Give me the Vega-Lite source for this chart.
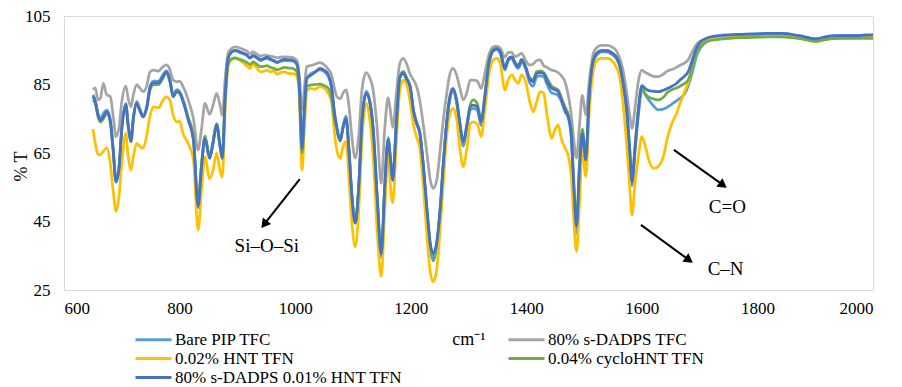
{
  "$schema": "https://vega.github.io/schema/vega-lite/v6.json",
  "width": 809,
  "height": 274,
  "autosize": {"type": "none"},
  "padding": {"left": 64, "top": 16, "right": 29, "bottom": 97},
  "background": "white",
  "config": {
    "view": {"stroke": "#D9D9D9", "strokeWidth": 1},
    "font": "Times New Roman"
  },
  "datasets": {
    "spectra": [
      {"w":650,"bare":82,"tfc":83.5,"hnt":72,"cyclo":80.5,"dual":81.5},
      {"w":654,"bare":80.5,"tfc":84,"hnt":68,"cyclo":79.5,"dual":80},
      {"w":659,"bare":76.5,"tfc":80.5,"hnt":64.5,"cyclo":75.5,"dual":76},
      {"w":663,"bare":75,"tfc":81,"hnt":64.5,"cyclo":74,"dual":74.5},
      {"w":668,"bare":76.5,"tfc":85.3,"hnt":65.5,"cyclo":75,"dual":75.5},
      {"w":674,"bare":77.5,"tfc":82,"hnt":66.5,"cyclo":76.5,"dual":77},
      {"w":680,"bare":75,"tfc":81.5,"hnt":62,"cyclo":74,"dual":74.5},
      {"w":685,"bare":66.5,"tfc":76,"hnt":54,"cyclo":66,"dual":66},
      {"w":690,"bare":57,"tfc":69.8,"hnt":48,"cyclo":57,"dual":56.5},
      {"w":695,"bare":60.5,"tfc":72,"hnt":52,"cyclo":60.5,"dual":60},
      {"w":700,"bare":72.5,"tfc":80,"hnt":62,"cyclo":72,"dual":72},
      {"w":707,"bare":79.5,"tfc":84.5,"hnt":70.7,"cyclo":79,"dual":79},
      {"w":711,"bare":73.5,"tfc":81,"hnt":64,"cyclo":73,"dual":73},
      {"w":716,"bare":69,"tfc":78.5,"hnt":60,"cyclo":69,"dual":68.3},
      {"w":720,"bare":75.5,"tfc":82,"hnt":64,"cyclo":75,"dual":75},
      {"w":726,"bare":80,"tfc":85,"hnt":67.8,"cyclo":79.5,"dual":79.5},
      {"w":731,"bare":78,"tfc":84,"hnt":67,"cyclo":77.5,"dual":77.5},
      {"w":737,"bare":76,"tfc":82.9,"hnt":66.4,"cyclo":75.5,"dual":75.6},
      {"w":743,"bare":78.5,"tfc":84.5,"hnt":70,"cyclo":78,"dual":78},
      {"w":749,"bare":84.5,"tfc":88.7,"hnt":76,"cyclo":83.5,"dual":84},
      {"w":755,"bare":86,"tfc":89.2,"hnt":78.5,"cyclo":85,"dual":85.5},
      {"w":764,"bare":86,"tfc":88.9,"hnt":78.2,"cyclo":85,"dual":85.5},
      {"w":770,"bare":87.5,"tfc":90,"hnt":80,"cyclo":86.5,"dual":87},
      {"w":777,"bare":89,"tfc":90.7,"hnt":81.4,"cyclo":88.3,"dual":88.7},
      {"w":783,"bare":87,"tfc":89.5,"hnt":80.5,"cyclo":86,"dual":86.3},
      {"w":789,"bare":82,"tfc":86.3,"hnt":76,"cyclo":81.5,"dual":81.4},
      {"w":795,"bare":83.5,"tfc":85.8,"hnt":74.1,"cyclo":83,"dual":82.9},
      {"w":800,"bare":83,"tfc":86,"hnt":74.3,"cyclo":82.5,"dual":82.5},
      {"w":806,"bare":80.5,"tfc":84.4,"hnt":70.7,"cyclo":80.5,"dual":80},
      {"w":815,"bare":75,"tfc":80.5,"hnt":67.8,"cyclo":75.5,"dual":74.6},
      {"w":824,"bare":69,"tfc":75,"hnt":63,"cyclo":69.5,"dual":68.8},
      {"w":832,"bare":49,"tfc":65.9,"hnt":42.5,"cyclo":50.5,"dual":49.3},
      {"w":838,"bare":61,"tfc":72,"hnt":54,"cyclo":62,"dual":61},
      {"w":844,"bare":69.5,"tfc":79.5,"hnt":63.9,"cyclo":70,"dual":69.3},
      {"w":852,"bare":63.5,"tfc":76.3,"hnt":57.5,"cyclo":64,"dual":63.4},
      {"w":858,"bare":68,"tfc":79,"hnt":60,"cyclo":68.5,"dual":68},
      {"w":864,"bare":73.5,"tfc":82.4,"hnt":65,"cyclo":73.5,"dual":73.2},
      {"w":870,"bare":67,"tfc":79,"hnt":60,"cyclo":67.5,"dual":67},
      {"w":874,"bare":63.5,"tfc":76,"hnt":58,"cyclo":64,"dual":63.4},
      {"w":879,"bare":82,"tfc":87,"hnt":78,"cyclo":81,"dual":82},
      {"w":884,"bare":92.5,"tfc":94.2,"hnt":90.5,"cyclo":91,"dual":92.5},
      {"w":890,"bare":94.5,"tfc":95.5,"hnt":92.3,"cyclo":92.5,"dual":94.5},
      {"w":896,"bare":94.8,"tfc":96,"hnt":92.6,"cyclo":92.8,"dual":95},
      {"w":905,"bare":94.3,"tfc":95.6,"hnt":92,"cyclo":92.3,"dual":94.5},
      {"w":916,"bare":93.5,"tfc":94.8,"hnt":90.5,"cyclo":91.5,"dual":93.7},
      {"w":922,"bare":92.7,"tfc":94,"hnt":89.7,"cyclo":90.8,"dual":92.8},
      {"w":927,"bare":93.3,"tfc":94.5,"hnt":91,"cyclo":91.6,"dual":93.5},
      {"w":933,"bare":92.8,"tfc":94,"hnt":90,"cyclo":91,"dual":93},
      {"w":940,"bare":92,"tfc":93.3,"hnt":88.7,"cyclo":90.2,"dual":92.3},
      {"w":946,"bare":92.4,"tfc":93.6,"hnt":88.9,"cyclo":90.3,"dual":92.6},
      {"w":951,"bare":92.6,"tfc":93.5,"hnt":89.2,"cyclo":90.5,"dual":93},
      {"w":957,"bare":92.2,"tfc":93.3,"hnt":88.7,"cyclo":90,"dual":92.5},
      {"w":963,"bare":91.8,"tfc":93.1,"hnt":89,"cyclo":89.7,"dual":92},
      {"w":969,"bare":91.4,"tfc":92.8,"hnt":88,"cyclo":89.3,"dual":91.5},
      {"w":975,"bare":91.8,"tfc":93,"hnt":88.5,"cyclo":89.6,"dual":92},
      {"w":981,"bare":92,"tfc":93.1,"hnt":88.7,"cyclo":90,"dual":92.3},
      {"w":990,"bare":92,"tfc":93,"hnt":88.2,"cyclo":89.8,"dual":92.2},
      {"w":997,"bare":91.8,"tfc":92.8,"hnt":88.2,"cyclo":89.6,"dual":92},
      {"w":1003,"bare":90.8,"tfc":92,"hnt":87.3,"cyclo":88.7,"dual":91},
      {"w":1007,"bare":85.5,"tfc":88,"hnt":82,"cyclo":84,"dual":86},
      {"w":1012,"bare":66.5,"tfc":77.6,"hnt":60,"cyclo":65,"dual":66.3},
      {"w":1016,"bare":78,"tfc":84,"hnt":72,"cyclo":76,"dual":78},
      {"w":1020,"bare":86.5,"tfc":90.2,"hnt":83,"cyclo":84.5,"dual":86.8},
      {"w":1026,"bare":88,"tfc":90.5,"hnt":83.9,"cyclo":84.8,"dual":87.5},
      {"w":1034,"bare":88.7,"tfc":90.9,"hnt":83.6,"cyclo":85,"dual":88.5},
      {"w":1043,"bare":89.3,"tfc":91.4,"hnt":84.4,"cyclo":85.1,"dual":89.7},
      {"w":1050,"bare":88.8,"tfc":90.8,"hnt":84,"cyclo":84.7,"dual":89.2},
      {"w":1057,"bare":87.5,"tfc":89.5,"hnt":82.5,"cyclo":84,"dual":88},
      {"w":1063,"bare":84,"tfc":87.8,"hnt":80,"cyclo":81,"dual":84.5},
      {"w":1068,"bare":76.5,"tfc":84,"hnt":71,"cyclo":75,"dual":77},
      {"w":1072,"bare":72,"tfc":81.5,"hnt":66,"cyclo":72,"dual":72.7},
      {"w":1078,"bare":68.5,"tfc":80.8,"hnt":63.4,"cyclo":68.5,"dual":68.8},
      {"w":1083,"bare":73,"tfc":82.5,"hnt":67,"cyclo":72.5,"dual":72.5},
      {"w":1088,"bare":75.8,"tfc":83.4,"hnt":68.3,"cyclo":75,"dual":75.1},
      {"w":1093,"bare":66.5,"tfc":79,"hnt":58,"cyclo":66,"dual":66},
      {"w":1098,"bare":53,"tfc":70,"hnt":45,"cyclo":53,"dual":53},
      {"w":1104,"bare":44.8,"tfc":63.5,"hnt":37.6,"cyclo":44.5,"dual":44.5},
      {"w":1110,"bare":55,"tfc":70,"hnt":48,"cyclo":55,"dual":55},
      {"w":1116,"bare":75.5,"tfc":84,"hnt":70,"cyclo":75,"dual":75},
      {"w":1123,"bare":83,"tfc":88.5,"hnt":79.5,"cyclo":82.4,"dual":82.4},
      {"w":1129,"bare":80.5,"tfc":87,"hnt":75,"cyclo":80,"dual":80},
      {"w":1135,"bare":72,"tfc":83.4,"hnt":64,"cyclo":72,"dual":72},
      {"w":1142,"bare":52,"tfc":72,"hnt":42,"cyclo":52,"dual":52},
      {"w":1149,"bare":34.5,"tfc":56.1,"hnt":29,"cyclo":35.5,"dual":35.5},
      {"w":1155,"bare":55,"tfc":72,"hnt":48,"cyclo":55,"dual":55},
      {"w":1161,"bare":69.5,"tfc":81.2,"hnt":64.9,"cyclo":69,"dual":68.8},
      {"w":1165,"bare":63.5,"tfc":77,"hnt":55,"cyclo":63,"dual":63},
      {"w":1169,"bare":57.5,"tfc":72.5,"hnt":50.5,"cyclo":58,"dual":57},
      {"w":1175,"bare":73.5,"tfc":82,"hnt":68,"cyclo":73.5,"dual":73},
      {"w":1181,"bare":87,"tfc":91,"hnt":83,"cyclo":87,"dual":87},
      {"w":1187,"bare":88.2,"tfc":92.6,"hnt":86.3,"cyclo":88.8,"dual":88.3},
      {"w":1193,"bare":86.5,"tfc":91,"hnt":85,"cyclo":87,"dual":86.5},
      {"w":1199,"bare":84,"tfc":88,"hnt":80,"cyclo":84.5,"dual":84.4},
      {"w":1205,"bare":77,"tfc":86.3,"hnt":73,"cyclo":77.5,"dual":77},
      {"w":1210,"bare":73.7,"tfc":84.5,"hnt":69.8,"cyclo":74.2,"dual":73.7},
      {"w":1216,"bare":70.5,"tfc":80,"hnt":66,"cyclo":71,"dual":70.5},
      {"w":1222,"bare":60.5,"tfc":73,"hnt":55,"cyclo":61,"dual":61},
      {"w":1228,"bare":48,"tfc":65,"hnt":41,"cyclo":48.5,"dual":49},
      {"w":1234,"bare":37,"tfc":57,"hnt":30,"cyclo":37.8,"dual":38.5},
      {"w":1239,"bare":33.5,"tfc":54.7,"hnt":27.4,"cyclo":34.7,"dual":35.7},
      {"w":1245,"bare":37.5,"tfc":57,"hnt":31,"cyclo":38.5,"dual":39},
      {"w":1251,"bare":48,"tfc":66,"hnt":43,"cyclo":48.5,"dual":49},
      {"w":1256,"bare":60.5,"tfc":74,"hnt":55.2,"cyclo":61,"dual":61},
      {"w":1262,"bare":73,"tfc":82,"hnt":69.5,"cyclo":73.5,"dual":73.5},
      {"w":1267,"bare":80,"tfc":87.5,"hnt":76,"cyclo":80.5,"dual":80.8},
      {"w":1273,"bare":83.2,"tfc":89.7,"hnt":78,"cyclo":83.5,"dual":83.9},
      {"w":1279,"bare":80,"tfc":88,"hnt":75.5,"cyclo":80.5,"dual":81},
      {"w":1285,"bare":73,"tfc":84,"hnt":66.5,"cyclo":73.5,"dual":74},
      {"w":1291,"bare":67,"tfc":80.5,"hnt":61,"cyclo":68,"dual":68.3},
      {"w":1297,"bare":72,"tfc":82.5,"hnt":66,"cyclo":73,"dual":73},
      {"w":1303,"bare":77.5,"tfc":86.3,"hnt":73.5,"cyclo":79,"dual":78.5},
      {"w":1308,"bare":78,"tfc":86.3,"hnt":74.1,"cyclo":80.5,"dual":79},
      {"w":1315,"bare":77.5,"tfc":86,"hnt":73.5,"cyclo":79.5,"dual":78.5},
      {"w":1322,"bare":73,"tfc":83.9,"hnt":69.8,"cyclo":74.5,"dual":74.1},
      {"w":1328,"bare":80.5,"tfc":88,"hnt":77,"cyclo":81.5,"dual":81},
      {"w":1335,"bare":90.5,"tfc":93.5,"hnt":87.5,"cyclo":91.5,"dual":91},
      {"w":1343,"bare":94.8,"tfc":96,"hnt":92.2,"cyclo":95.2,"dual":95},
      {"w":1349,"bare":95.2,"tfc":96.2,"hnt":92.6,"cyclo":95.5,"dual":95.5},
      {"w":1355,"bare":94,"tfc":95.6,"hnt":91,"cyclo":94.8,"dual":94.5},
      {"w":1363,"bare":89.2,"tfc":93,"hnt":83.4,"cyclo":90,"dual":89.7},
      {"w":1369,"bare":92,"tfc":94.4,"hnt":86.5,"cyclo":92.5,"dual":92.5},
      {"w":1375,"bare":92.6,"tfc":94.4,"hnt":87.8,"cyclo":93,"dual":93.1},
      {"w":1380,"bare":91,"tfc":93.1,"hnt":86.5,"cyclo":91.6,"dual":91.5},
      {"w":1386,"bare":89.7,"tfc":93.5,"hnt":85.3,"cyclo":90.5,"dual":90.2},
      {"w":1392,"bare":91.5,"tfc":94.1,"hnt":87.8,"cyclo":92.3,"dual":92.2},
      {"w":1399,"bare":89.5,"tfc":92,"hnt":85.8,"cyclo":90.2,"dual":90},
      {"w":1406,"bare":85.5,"tfc":90.7,"hnt":80,"cyclo":87,"dual":86.5},
      {"w":1412,"bare":84.5,"tfc":91,"hnt":77,"cyclo":86.5,"dual":85.8},
      {"w":1418,"bare":87.3,"tfc":92,"hnt":80,"cyclo":88.8,"dual":88.3},
      {"w":1424,"bare":87.5,"tfc":92.2,"hnt":82.9,"cyclo":89,"dual":88.5},
      {"w":1430,"bare":87.3,"tfc":90.5,"hnt":82.5,"cyclo":88.5,"dual":88.3},
      {"w":1436,"bare":85,"tfc":90,"hnt":76,"cyclo":86.8,"dual":86},
      {"w":1444,"bare":82.5,"tfc":89.2,"hnt":69.3,"cyclo":84.5,"dual":83.9},
      {"w":1449,"bare":82.3,"tfc":89,"hnt":71.5,"cyclo":84,"dual":83.5},
      {"w":1455,"bare":81.8,"tfc":88.5,"hnt":73.2,"cyclo":83.5,"dual":82.9},
      {"w":1461,"bare":80,"tfc":87.5,"hnt":69,"cyclo":81,"dual":80.5},
      {"w":1467,"bare":77,"tfc":85.8,"hnt":66.5,"cyclo":78.5,"dual":77.6},
      {"w":1473,"bare":75,"tfc":81.5,"hnt":64,"cyclo":76,"dual":75.5},
      {"w":1478,"bare":69,"tfc":76,"hnt":58,"cyclo":71,"dual":70},
      {"w":1482,"bare":54,"tfc":69,"hnt":46,"cyclo":57.5,"dual":56},
      {"w":1487,"bare":41.5,"tfc":63.5,"hnt":36.2,"cyclo":45,"dual":43.5},
      {"w":1492,"bare":59,"tfc":73,"hnt":50,"cyclo":62,"dual":60},
      {"w":1497,"bare":70,"tfc":81.9,"hnt":65.9,"cyclo":72,"dual":70.7},
      {"w":1503,"bare":62.5,"tfc":76.1,"hnt":58.1,"cyclo":64.5,"dual":63},
      {"w":1509,"bare":81.5,"tfc":86,"hnt":77,"cyclo":82.5,"dual":82},
      {"w":1516,"bare":91.5,"tfc":94.1,"hnt":89,"cyclo":92.3,"dual":92},
      {"w":1522,"bare":93.6,"tfc":95.8,"hnt":92,"cyclo":94.2,"dual":94},
      {"w":1530,"bare":94.5,"tfc":96.4,"hnt":92.6,"cyclo":95,"dual":94.8},
      {"w":1540,"bare":94.5,"tfc":96.4,"hnt":92.6,"cyclo":95,"dual":94.8},
      {"w":1548,"bare":93.8,"tfc":96,"hnt":92,"cyclo":94.3,"dual":94.2},
      {"w":1556,"bare":92.5,"tfc":94.8,"hnt":90,"cyclo":93,"dual":93},
      {"w":1562,"bare":90,"tfc":92.5,"hnt":87,"cyclo":90.5,"dual":90.5},
      {"w":1567,"bare":85.5,"tfc":89.5,"hnt":80,"cyclo":86,"dual":86},
      {"w":1574,"bare":76.5,"tfc":82.4,"hnt":66.8,"cyclo":77,"dual":77.6},
      {"w":1579,"bare":64,"tfc":76,"hnt":55,"cyclo":66,"dual":66},
      {"w":1583,"bare":55.5,"tfc":72.2,"hnt":46.9,"cyclo":57.2,"dual":56.6},
      {"w":1588,"bare":65,"tfc":78,"hnt":56,"cyclo":67,"dual":66},
      {"w":1594,"bare":76,"tfc":86,"hnt":64,"cyclo":78,"dual":77.6},
      {"w":1600,"bare":83.5,"tfc":89.2,"hnt":69.8,"cyclo":84.2,"dual":84.7},
      {"w":1606,"bare":82,"tfc":88.5,"hnt":67,"cyclo":82.2,"dual":83.8},
      {"w":1612,"bare":80.5,"tfc":88,"hnt":63,"cyclo":81.3,"dual":83.2},
      {"w":1620,"bare":78.8,"tfc":87.4,"hnt":60.5,"cyclo":80.8,"dual":83},
      {"w":1628,"bare":77.6,"tfc":87.3,"hnt":61,"cyclo":80.5,"dual":82.9},
      {"w":1637,"bare":77.8,"tfc":88,"hnt":63.9,"cyclo":81.2,"dual":83.3},
      {"w":1645,"bare":78.5,"tfc":89,"hnt":70,"cyclo":82.8,"dual":83.9},
      {"w":1652,"bare":79.3,"tfc":89.4,"hnt":73.7,"cyclo":83.5,"dual":84.5},
      {"w":1660,"bare":80.2,"tfc":90,"hnt":76.5,"cyclo":84,"dual":85.3},
      {"w":1666,"bare":81,"tfc":90.6,"hnt":79.5,"cyclo":84.5,"dual":86.3},
      {"w":1673,"bare":82,"tfc":91.2,"hnt":82.5,"cyclo":85.2,"dual":87.3},
      {"w":1680,"bare":84.5,"tfc":92.2,"hnt":85.5,"cyclo":86.3,"dual":88.7},
      {"w":1688,"bare":89,"tfc":94.8,"hnt":90.5,"cyclo":90.5,"dual":92.5},
      {"w":1695,"bare":93.5,"tfc":96.8,"hnt":94.5,"cyclo":94.5,"dual":95.8},
      {"w":1702,"bare":95.8,"tfc":97.7,"hnt":96.3,"cyclo":96.2,"dual":97.5},
      {"w":1712,"bare":97.5,"tfc":98.2,"hnt":97.7,"cyclo":97.5,"dual":98.5},
      {"w":1725,"bare":98.6,"tfc":98.6,"hnt":98.3,"cyclo":98,"dual":99.1},
      {"w":1740,"bare":99.1,"tfc":98.8,"hnt":98.5,"cyclo":98.3,"dual":99.4},
      {"w":1760,"bare":99.4,"tfc":99,"hnt":98.7,"cyclo":98.6,"dual":99.6},
      {"w":1780,"bare":99.6,"tfc":99.1,"hnt":98.8,"cyclo":98.7,"dual":99.7},
      {"w":1800,"bare":99.7,"tfc":99.2,"hnt":98.9,"cyclo":98.8,"dual":99.8},
      {"w":1820,"bare":99.9,"tfc":99.3,"hnt":99,"cyclo":98.9,"dual":99.9},
      {"w":1840,"bare":99.9,"tfc":99.3,"hnt":99,"cyclo":98.9,"dual":99.9},
      {"w":1860,"bare":99.6,"tfc":99.1,"hnt":98.8,"cyclo":98.7,"dual":99.6},
      {"w":1880,"bare":99,"tfc":98.6,"hnt":98.3,"cyclo":98.2,"dual":99},
      {"w":1900,"bare":98.3,"tfc":98,"hnt":97.7,"cyclo":97.6,"dual":98.3},
      {"w":1915,"bare":98.8,"tfc":98.5,"hnt":98.1,"cyclo":98,"dual":98.8},
      {"w":1930,"bare":99.2,"tfc":98.9,"hnt":98.5,"cyclo":98.4,"dual":99.2},
      {"w":1950,"bare":99.3,"tfc":99,"hnt":98.6,"cyclo":98.5,"dual":99.3},
      {"w":1970,"bare":99.3,"tfc":99,"hnt":98.6,"cyclo":98.5,"dual":99.3},
      {"w":1985,"bare":99.4,"tfc":99.1,"hnt":98.7,"cyclo":98.5,"dual":99.4},
      {"w":2000,"bare":99.5,"tfc":99.2,"hnt":98.7,"cyclo":98.5,"dual":99.5}
    ],
    "notes": [
      {"w": 951, "T": 37.8, "label": "Si–O–Si"},
      {"w": 1748, "T": 49.1, "label": "C=O"},
      {"w": 1745, "T": 31.1, "label": "C–N"}
    ],
    "arrows": [
      {"w": 1008, "T": 57.4, "w2": 948, "T2": 44.5},
      {"w": 1655.5, "T": 65.9, "w2": 1738.4, "T2": 55.9},
      {"w": 1598.4, "T": 44, "w2": 1679.6, "T2": 34}
    ],
    "headsSW": [
      {"w": 948, "T": 44.5}
    ],
    "headsSE": [
      {"w": 1738.4, "T": 55.9},
      {"w": 1679.6, "T": 34}
    ]
  },
  "layer": [
    {
      "data": {"name": "spectra"},
      "transform": [{"fold": ["bare", "tfc", "hnt", "cyclo", "dual"], "as": ["series", "T"]}],
      "mark": {"type": "line", "interpolate": "monotone", "strokeWidth": 2.75},
      "encoding": {
        "x": {
          "field": "w", "type": "quantitative",
          "scale": {"domain": [600, 2000], "nice": false, "zero": false},
          "axis": {
            "title": "cm⁻¹", "values": [600, 800, 1000, 1200, 1400, 1600, 1800, 2000], "format": "d",
            "grid": false, "ticks": false, "domain": false,
            "labelFont": "Times New Roman", "labelFontSize": 17, "labelColor": "#000000", "labelPadding": 10,
            "titleFont": "Times New Roman", "titleFontSize": 18, "titleFontWeight": "normal", "titleColor": "#000000", "titlePadding": 14
          }
        },
        "y": {
          "field": "T", "type": "quantitative",
          "scale": {"domain": [25, 105], "nice": false, "zero": false},
          "axis": {
            "title": "% T", "values": [25, 35, 45, 55, 65, 75, 85, 95, 105], "format": "d",
            "grid": false, "ticks": false, "domain": false,
            "labelFont": "Times New Roman", "labelFontSize": 17, "labelColor": "#000000", "labelPadding": 14,
            "titleFont": "Times New Roman", "titleFontSize": 18, "titleFontWeight": "normal", "titleColor": "#000000",
            "titleX": -34, "titleY": 150
          }
        },
        "color": {
          "field": "series", "type": "nominal",
          "scale": {
            "domain": ["bare", "hnt", "dual", "tfc", "cyclo"],
            "range": ["#5B9BD5", "#FFC000", "#4472C4", "#A5A5A5", "#70AD47"]
          },
          "legend": {
            "orient": "none", "legendX": 79, "legendY": 313, "columns": 2, "title": null,
            "symbolType": "M-2,0H2", "symbolSize": 324, "symbolStrokeWidth": 3,
            "labelFont": "Times New Roman", "labelFontSize": 17, "labelColor": "#000000",
            "labelOffset": 11, "columnPadding": 99, "rowPadding": 0, "labelLimit": 400,
            "labelExpr": "{'bare': 'Bare PIP TFC', 'tfc': '80% s-DADPS TFC', 'hnt': '0.02% HNT TFN', 'cyclo': '0.04% cycloHNT TFN', 'dual': '80% s-DADPS 0.01% HNT TFN'}[datum.label]"
          }
        }
      }
    },
    {
      "data": {"name": "arrows"},
      "mark": {"type": "rule", "color": "#000000", "strokeWidth": 2},
      "encoding": {
        "x": {"field": "w", "type": "quantitative"},
        "y": {"field": "T", "type": "quantitative"},
        "x2": {"field": "w2"},
        "y2": {"field": "T2"}
      }
    },
    {
      "data": {"name": "headsSW"},
      "mark": {"type": "point", "shape": "triangle", "filled": true, "color": "#000000", "size": 110, "angle": 218, "opacity": 1},
      "encoding": {
        "x": {"field": "w", "type": "quantitative"},
        "y": {"field": "T", "type": "quantitative"}
      }
    },
    {
      "data": {"name": "headsSE"},
      "mark": {"type": "point", "shape": "triangle", "filled": true, "color": "#000000", "size": 110, "angle": 125, "opacity": 1},
      "encoding": {
        "x": {"field": "w", "type": "quantitative"},
        "y": {"field": "T", "type": "quantitative"}
      }
    },
    {
      "data": {"name": "notes"},
      "mark": {"type": "text", "font": "Times New Roman", "fontSize": 19, "color": "#000000", "align": "center", "baseline": "middle"},
      "encoding": {
        "x": {"field": "w", "type": "quantitative"},
        "y": {"field": "T", "type": "quantitative"},
        "text": {"field": "label"}
      }
    }
  ]
}
